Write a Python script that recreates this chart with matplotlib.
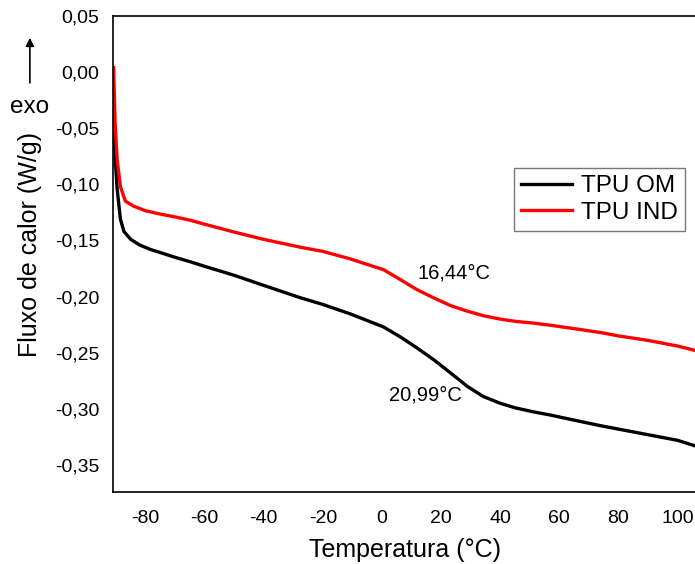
import matplotlib.pyplot as plt

plt.rcParams['font.family'] = ['Liberation Sans', 'DejaVu Sans']

# DSC curves
temp_om = [-90.8, -90.3, -89.6, -88.5, -87.3, -85.0, -82.0, -78.3, -70.0, -64.8,
           -60.0, -50.0, -40.0, -27.6, -20.0, -10.6, 0.5, 6.3, 12.0, 17.4,
           23.2, 28.9, 34.3, 40.0, 45.0, 51.0, 57.0, 65.0, 74.0, 80.0, 90.0, 100.0, 106.0]
flux_om = [-0.040, -0.075, -0.104, -0.131, -0.142, -0.149, -0.154, -0.158, -0.165, -0.169,
           -0.173, -0.181, -0.190, -0.201, -0.207, -0.2155, -0.227, -0.236, -0.246, -0.256,
           -0.268, -0.280, -0.289, -0.295, -0.299, -0.3025, -0.3055, -0.310, -0.315, -0.318, -0.323, -0.328, -0.333]

temp_ind = [-90.8, -90.3, -89.6, -88.5, -86.8, -84.0, -80.0, -75.0, -70.0, -64.8,
            -60.0, -50.0, -40.0, -27.6, -20.0, -10.6, 0.5, 6.3, 12.0, 17.4,
            23.2, 28.9, 34.3, 40.0, 45.0, 51.0, 57.0, 65.0, 74.0, 80.0, 90.0, 100.0, 106.0]
flux_ind = [0.004, -0.045, -0.078, -0.102, -0.115, -0.1195, -0.1235, -0.1265, -0.129, -0.132,
            -0.1355, -0.1425, -0.149, -0.156, -0.1597, -0.1665, -0.176, -0.185, -0.194, -0.201,
            -0.208, -0.213, -0.217, -0.220, -0.222, -0.2235, -0.2255, -0.2285, -0.232, -0.235, -0.239, -0.244, -0.248]

xticks = [-80, -60, -40, -20, 0, 20, 40, 60, 80, 100]
yticks = [0.05, 0.00, -0.05, -0.10, -0.15, -0.20, -0.25, -0.30, -0.35]

fig = plt.figure(figsize=(6.95, 5.64), dpi=100)
ax = fig.add_axes([0.1626, 0.1277, 0.840, 0.844])

ax.plot(temp_om, flux_om, color='black', lw=2.4, label='TPU OM')
ax.plot(temp_ind, flux_ind, color='red', lw=2.4, label='TPU IND')

ax.set_xlim(-91, 106.5)
ax.set_ylim(-0.374, 0.05)
ax.set_xticks(xticks)
ax.set_xticklabels([str(t) for t in xticks])
ax.set_yticks(yticks)
ax.set_yticklabels([f"{v:.2f}".replace('.', ',') for v in yticks])
ax.tick_params(length=0, labelsize=14)
ax.tick_params(axis='y', pad=10)
ax.tick_params(axis='x', pad=13)
ax.spines['right'].set_visible(False)
for s in ['left', 'top', 'bottom']:
    ax.spines[s].set_linewidth(1.2)

ax.set_xlabel('Temperatura (°C)', fontsize=18, labelpad=8)
ax.set_ylabel('Fluxo de calor (W/g)', fontsize=18)
ax.yaxis.set_label_coords(-0.122, 0.519)

ax.text(24.2, -0.1786, '16,44°C', fontsize=14.5, ha='center', va='center')
ax.text(14.7, -0.2875, '20,99°C', fontsize=14.5, ha='center', va='center')

leg = ax.legend(loc='upper left', bbox_to_anchor=(0.687, 0.681), fontsize=17.5,
                frameon=True, fancybox=False, edgecolor='#555555', borderpad=0.3,
                handlelength=2.1, handletextpad=0.35, labelspacing=0.2, borderaxespad=0)
leg.get_frame().set_linewidth(1.0)

# exo arrow
fig.text(0.043, 0.81, 'exo', fontsize=17.5, ha='center', va='center')
ax.annotate('', xy=(0.043, 0.933), xycoords='figure fraction',
            xytext=(0.043, 0.853), textcoords='figure fraction',
            arrowprops=dict(arrowstyle='-|>', color='black', lw=1.2, mutation_scale=12,
                            shrinkA=0, shrinkB=0))

fig.savefig('out.png', dpi=100)
